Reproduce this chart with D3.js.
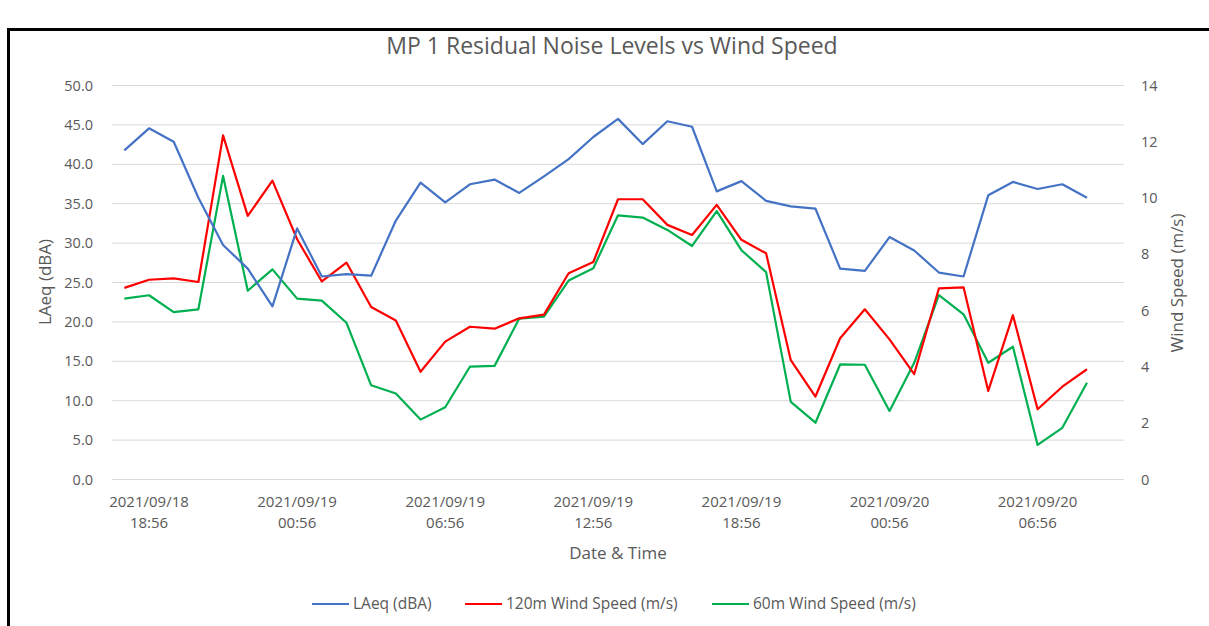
<!DOCTYPE html>
<html>
<head>
<meta charset="utf-8">
<script src="https://cdn.jsdelivr.net/npm/d3@7"></script>
<style>
  body { margin: 0; background: #fff; }
  text { font-family: "Open Sans", sans-serif; fill: #595959; }
</style>
</head>
<body>
<svg id="chart"></svg>
<script>
// hourly readings, index 0 = 2021/09/18 17:56
var laeq = [41.7, 44.5, 42.8, 35.7, 29.7, 26.7, 21.9, 31.8, 25.7, 26.0,
  25.8, 32.8, 37.6, 35.1, 37.4, 38.0, 36.3, 38.4, 40.6, 43.4,
  45.7, 42.5, 45.4, 44.7, 36.5, 37.8, 35.3, 34.6, 34.3, 26.7,
  26.4, 30.7, 29.0, 26.2, 25.7, 36.0, 37.7, 36.8, 37.4, 35.7];
var wind120 = [6.79, 7.08, 7.13, 7.0, 12.21, 9.35, 10.6, 8.52, 7.02, 7.69,
  6.11, 5.63, 3.81, 4.88, 5.41, 5.34, 5.71, 5.84, 7.31, 7.71,
  9.94, 9.94, 9.03, 8.67, 9.74, 8.5, 8.02, 4.22, 2.93, 5.0,
  6.03, 4.96, 3.73, 6.77, 6.81, 3.13, 5.82, 2.48, 3.28, 3.9];
var wind60 = [6.41, 6.53, 5.93, 6.03, 10.77, 6.69, 7.45, 6.41, 6.34, 5.55,
  3.33, 3.04, 2.11, 2.55, 3.99, 4.02, 5.7, 5.77, 7.05, 7.49,
  9.37, 9.29, 8.85, 8.28, 9.52, 8.13, 7.35, 2.74, 2.0, 4.07,
  4.06, 2.42, 4.13, 6.53, 5.85, 4.13, 4.7, 1.21, 1.82, 3.42];
var tickIdx = [1, 7, 13, 19, 25, 31, 37];
var tickLabels = [["2021/09/18", "18:56"], ["2021/09/19", "00:56"], ["2021/09/19", "06:56"],
  ["2021/09/19", "12:56"], ["2021/09/19", "18:56"], ["2021/09/20", "00:56"], ["2021/09/20", "06:56"]];
var leftTicks = [0, 5, 10, 15, 20, 25, 30, 35, 40, 45, 50];
var rightTicks = [0, 2, 4, 6, 8, 10, 12, 14];

var width = 1209, height = 626;
var plot = { left: 112, right: 1124, top: 85, bottom: 479 };

var svg = d3.select("#chart").attr("width", width).attr("height", height);

// border of the chart box
svg.append("rect")
  .attr("x", 8.5).attr("y", 29.5)
  .attr("width", 1300).attr("height", 700)
  .attr("fill", "#fff").attr("stroke", "#000").attr("stroke-width", 3);

// scales (41 slots, last one empty)
var x = d3.scaleLinear().domain([-0.5, 40.5]).range([plot.left, plot.right]);
var yL = d3.scaleLinear().domain([0, 50]).range([plot.bottom, plot.top]);
var yR = d3.scaleLinear().domain([0, 14]).range([plot.bottom, plot.top]);

// grid
svg.append("g").selectAll("line").data(leftTicks).enter().append("line")
  .attr("x1", plot.left).attr("x2", plot.right)
  .attr("y1", function (d) { return yL(d) + 0.5 })
  .attr("y2", function (d) { return yL(d) + 0.5 })
  .attr("stroke", "#d9d9d9").attr("stroke-width", 1);

// left axis
var axL = svg.append("g").attr("transform", "translate(" + (plot.left - 16) + ",0)")
  .call(d3.axisLeft(yL).tickValues(leftTicks).tickFormat(d3.format(".1f")).tickSize(0));
axL.select(".domain").remove();
axL.selectAll("text").style("font-size", "14.5px").attr("fill", "#595959").attr("dy", "0.35em");

// right axis
var axR = svg.append("g").attr("transform", "translate(" + (plot.right + 17) + ",0)")
  .call(d3.axisRight(yR).tickValues(rightTicks).tickSize(0));
axR.select(".domain").remove();
axR.selectAll("text").style("font-size", "14.5px").attr("fill", "#595959").attr("dy", "0.35em").attr("x", 0);

// x labels
var xl = svg.append("g").selectAll("text").data(tickIdx).enter().append("text")
  .attr("x", function (d) { return x(d) })
  .attr("y", 507)
  .attr("text-anchor", "middle")
  .style("font-size", "15px");
xl.append("tspan").attr("x", function (d) { return x(d) }).text(function (d, i) { return tickLabels[i][0] });
xl.append("tspan").attr("x", function (d) { return x(d) }).attr("dy", 21).text(function (d, i) { return tickLabels[i][1] });

// titles
svg.append("text").attr("x", 612).attr("y", 54).attr("text-anchor", "middle")
  .style("font-size", "23px").text("MP 1 Residual Noise Levels vs Wind Speed");
svg.append("text").attr("x", 618).attr("y", 559).attr("text-anchor", "middle")
  .style("font-size", "17px").text("Date & Time");
svg.append("text").attr("transform", "translate(51,282) rotate(-90)").attr("text-anchor", "middle")
  .style("font-size", "17px").text("LAeq (dBA)");
svg.append("text").attr("transform", "translate(1183,283) rotate(-90)").attr("text-anchor", "middle")
  .style("font-size", "17px").text("Wind Speed (m/s)");

// lines
var series = [
  { data: wind60, y: yR, color: "#00B050" },
  { data: wind120, y: yR, color: "#FF0000" },
  { data: laeq, y: yL, color: "#4472C4" }
];
series.forEach(function (s) {
  var line = d3.line()
    .x(function (d, i) { return x(i) })
    .y(function (d) { return s.y(d) });
  svg.append("path").datum(s.data)
    .attr("fill", "none")
    .attr("stroke", s.color)
    .attr("stroke-width", 2.2)
    .attr("stroke-linejoin", "round")
    .attr("d", line);
});

// legend
var legend = [
  { name: "LAeq (dBA)", color: "#4472C4", x: 312 },
  { name: "120m Wind Speed (m/s)", color: "#FF0000", x: 465 },
  { name: "60m Wind Speed (m/s)", color: "#00B050", x: 712 }
];
var lg = svg.append("g").selectAll("g").data(legend).enter().append("g")
  .attr("transform", function (d) { return "translate(" + d.x + ",604)" });
lg.append("line").attr("x1", 0).attr("x2", 37).attr("stroke", function (d) { return d.color }).attr("stroke-width", 2.2);
lg.append("text").attr("x", 41).attr("dy", "0.35em").style("font-size", "15.5px").text(function (d) { return d.name });
</script>
</body>
</html>
